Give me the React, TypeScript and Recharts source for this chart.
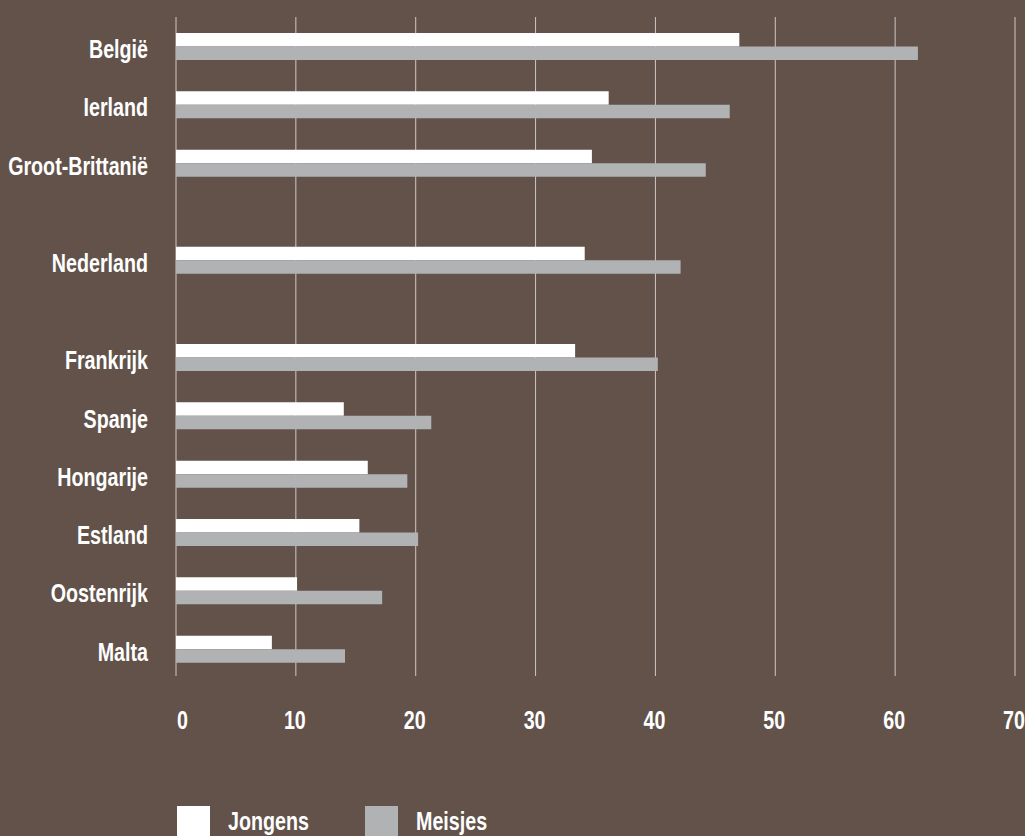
import * as React from 'react'
import { Bar, BarChart, CartesianGrid, XAxis, YAxis } from 'recharts'

const countries = [
  'België',
  'Ierland',
  'Groot-Brittanië',
  'Nederland',
  'Frankrijk',
  'Spanje',
  'Hongarije',
  'Estland',
  'Oostenrijk',
  'Malta',
]
const jongens = [47, 36.1, 34.7, 34.1, 33.3, 14, 16, 15.3, 10.1, 8]
const meisjes = [61.9, 46.2, 44.2, 42.1, 40.2, 21.3, 19.3, 20.2, 17.2, 14.1]
const seriesNames = ['Jongens', 'Meisjes']
const xTicks = [0, 10, 20, 30, 40, 50, 60, 70]

// the original leaves a wider gap above these two rows
const wideGapBefore = ['Nederland', 'Frankrijk']

const BG = '#62524a'
const WHITE = '#ffffff'
const GREY = '#b1b2b4'
const GRID = '#cdc8c5'
const FONT = "'Liberation Sans', Arial, sans-serif"
// no condensed face is installed, so squeeze a regular bold one
const SQUEEZE = 0.787

let slot = -1
const rows = countries.map((country, i) => {
  slot += wideGapBefore.includes(country) ? 5 / 3 : 1
  return { country, slot, jongens: jongens[i], meisjes: meisjes[i] }
})
const slots = rows.map((r) => r.slot)

function Label({ x, y, anchor, children }: { x: number; y: number; anchor: string; children: React.ReactNode }) {
  return (
    <text
      transform={`translate(${x},${y}) scale(${SQUEEZE},1)`}
      textAnchor={anchor}
      fill={WHITE}
      fontFamily={FONT}
      fontWeight="bold"
      fontSize={25}
    >
      {children}
    </text>
  )
}

function CountryTick(props: any) {
  const { x, y, index } = props
  return (
    <Label x={x} y={y + 12} anchor="end">
      {rows[index]?.country}
    </Label>
  )
}

function ValueTick(props: any) {
  const { x, y, payload } = props
  const first = payload.value === 0
  return (
    <Label x={first ? x + 1 : x - 1} y={y + 53} anchor={first ? 'start' : 'middle'}>
      {payload.value}
    </Label>
  )
}

function LegendItem({ left, color, label }: { left: number; color: string; label: string }) {
  return (
    <div style={{ position: 'absolute', left, top: 806, display: 'flex' }}>
      <div style={{ width: 33, height: 33, background: color }} />
      <div
        style={{
          marginLeft: 18,
          marginTop: 3,
          lineHeight: '25px',
          fontSize: 25,
          fontWeight: 'bold',
          fontFamily: FONT,
          color: WHITE,
          transform: `scaleX(${SQUEEZE})`,
          transformOrigin: 'left',
          whiteSpace: 'nowrap',
        }}
      >
        {label}
      </div>
    </div>
  )
}

export default function App() {
  return (
    <div style={{ position: 'fixed', left: 0, top: 0, width: 1025, height: 836, background: BG, overflow: 'hidden' }}>
      <BarChart
        width={1025}
        height={836}
        data={rows}
        layout="vertical"
        barGap={0}
        margin={{ top: 17, right: 10, left: 0, bottom: 130 }}
      >
        <CartesianGrid stroke={GRID} strokeWidth={1} horizontal={false} verticalValues={xTicks} />
        <XAxis
          type="number"
          domain={[0, 70]}
          ticks={xTicks}
          interval={0}
          axisLine={false}
          tickLine={false}
          tickSize={0}
          tickMargin={0}
          height={30}
          tick={<ValueTick />}
        />
        <YAxis
          type="number"
          dataKey="slot"
          domain={[-0.5, 10.8]}
          ticks={slots}
          interval={0}
          width={176}
          axisLine={false}
          tickLine={false}
          tickSize={0}
          tickMargin={28}
          tick={<CountryTick />}
        />
        <Bar dataKey="jongens" name={seriesNames[0]} fill={WHITE} barSize={13.5} isAnimationActive={false} />
        <Bar dataKey="meisjes" name={seriesNames[1]} fill={GREY} barSize={13.5} isAnimationActive={false} />
      </BarChart>
      <LegendItem left={177} color={WHITE} label={seriesNames[0]} />
      <LegendItem left={365} color={GREY} label={seriesNames[1]} />
    </div>
  )
}
